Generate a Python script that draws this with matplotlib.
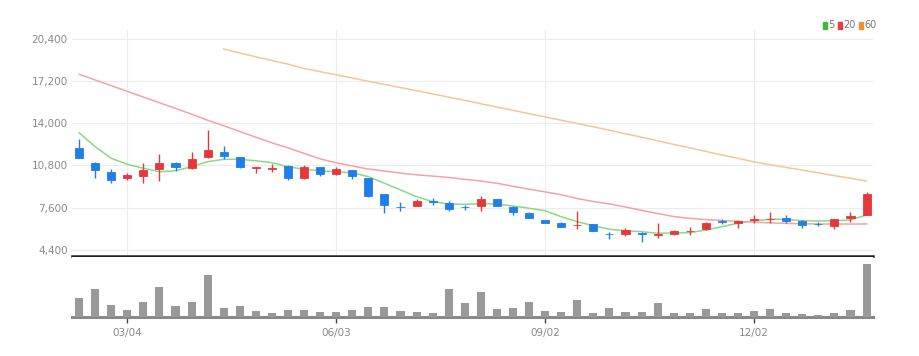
import matplotlib
matplotlib.use("Agg")
import matplotlib.pyplot as plt
from matplotlib.patches import Rectangle

plt.rcParams["font.family"] = ["Liberation Sans Narrow", "DejaVu Sans"]

# weekly candles (50 weeks)
opens = [12100, 10970, 10280, 9830, 10000, 10510, 11010, 10590, 11420, 11850,
         11420, 10620, 10560, 10780, 9830, 10660, 10150, 10460, 9830, 8610,
         7650, 7740, 8080, 7970, 7650, 7720, 8230, 7670, 7210, 6660,
         6450, 6250, 6350, 5600, 5570, 5680, 5550, 5570, 5800, 5970,
         6560, 6410, 6690, 6700, 6830, 6600, 6380, 6200, 6790, 7040]
highs = [12790, 11090, 10510, 10250, 10970, 11670, 11090, 11800, 13500, 12300,
         11450, 10660, 10890, 10800, 10840, 10680, 10660, 10480, 9850, 8640,
         8000, 8230, 8310, 8100, 7800, 8480, 8250, 7690, 7230, 6680,
         6470, 7340, 6370, 5770, 6070, 5770, 6410, 5900, 6100, 6500,
         6710, 6640, 7040, 7240, 7040, 6620, 6480, 6710, 7240, 8810]
lows = [11350, 9830, 9490, 9700, 9450, 9620, 10400, 10560, 11400, 11290,
        10590, 10210, 10330, 9700, 9800, 10020, 10100, 9770, 8430, 7210,
        7340, 7700, 7800, 7340, 7420, 7360, 7700, 7040, 6800, 6420,
        6100, 5970, 5790, 5210, 5460, 5010, 5310, 5500, 5520, 5900,
        6350, 6030, 6410, 6410, 6410, 6030, 6200, 5950, 6530, 7010]
closes = [11390, 10460, 9700, 10080, 10460, 10970, 10710, 11290, 11980, 11520,
          10660, 10660, 10600, 9830, 10710, 10150, 10510, 10000, 8500, 7800,
          7620, 8100, 8030, 7520, 7610, 8230, 7720, 7240, 6830, 6450,
          6150, 6290, 5820, 5560, 5900, 5620, 5590, 5820, 5850, 6410,
          6510, 6600, 6720, 6730, 6600, 6280, 6340, 6710, 6980, 8610]

# moving averages
ma5 = [13290, 12230, 11350, 10890, 10590, 10330, 10400, 10710, 11090, 11270,
       11270, 11160, 11010, 10710, 10510, 10400, 10330, 10250, 9950, 9450,
       8940, 8430, 8050, 7870, 7850, 7900, 7870, 7720, 7550, 7360,
       6910, 6530, 6220, 5950, 5840, 5770, 5650, 5670, 5690, 5900,
       6150, 6410, 6600, 6710, 6710, 6600, 6580, 6600, 6660, 7040]
ma20 = [17730, 17300, 16870, 16430, 16000, 15570, 15140, 14700, 14240, 13820,
        13380, 12950, 12520, 12140, 11720, 11300, 11010, 10760, 10530, 10380,
        10220, 10090, 9995, 9890, 9750, 9620, 9450, 9220, 9000, 8790,
        8580, 8290, 8060, 7880, 7650, 7390, 7150, 6920, 6780, 6690,
        6620, 6560, 6500, 6440, 6400, 6375, 6355, 6350, 6350, 6355]
ma60 = [None] * 9 + [
        19650, 19350, 19060, 18780, 18500, 18170, 17930, 17690, 17450, 17200,
        16960, 16720, 16490, 16240, 15990, 15750, 15490, 15240, 14990, 14740,
        14490, 14240, 13990, 13740, 13480, 13210, 12950, 12680, 12400, 12140,
        11870, 11600, 11340, 11070, 10860, 10650, 10450, 10240, 10030, 9830,
        9620]
volumes = [54, 83, 34, 19, 42, 89, 30, 44, 122, 25,
           30, 15, 10, 20, 20, 14, 13, 19, 27, 27,
           15, 14, 10, 83, 39, 72, 22, 25, 42, 17,
           14, 49, 10, 25, 14, 14, 39, 10, 10, 23,
           9, 10, 15, 23, 10, 6, 4, 10, 18, 155]

price_ticks = [4400, 7600, 10800, 14000, 17200, 20400]
date_ticks = [3, 16, 29, 42]
date_labels = ["03/04", "06/03", "09/02", "12/02"]

UP = "#e5383b"
DOWN = "#1f7fe6"
W, H = 919, 356

fig = plt.figure(figsize=(W / 100, H / 100), dpi=100)
ax = fig.add_axes([72 / W, (H - 256) / H, 801 / W, 226 / H])
axv = fig.add_axes([72 / W, (H - 316.5) / H, 801 / W, 59.5 / H])

n = len(opens)
xs = list(range(n))
cols = [UP if c >= o else DOWN for o, c in zip(opens, closes)]

ax.vlines(xs, lows, highs, colors=cols, linewidth=1.0, zorder=3)
bottoms = [min(o, c) for o, c in zip(opens, closes)]
heights = [max(abs(c - o), 40) for o, c in zip(opens, closes)]
ax.bar(xs, heights, bottom=bottoms, width=0.5, color=cols,
       edgecolor=cols, linewidth=0.6, zorder=4)

ax.plot(xs, ma5, color="#8ad88a", linewidth=1.1, zorder=2)
ax.plot(xs, ma20, color="#f4a3a6", linewidth=1.1, zorder=2)
ma60_x = [x for x, v in zip(xs, ma60) if v is not None]
ma60_y = [v for v in ma60 if v is not None]
ax.plot(ma60_x, ma60_y, color="#f8c496", linewidth=1.1, zorder=2)

ax.set_xlim(-0.44, 49.4)
ax.set_ylim(3921, 21097)
ax.set_yticks(price_ticks)
ax.set_yticklabels([f"{v:,}" for v in price_ticks])
ax.set_xticks(date_ticks)
ax.tick_params(axis="x", length=0, labelbottom=False)
ax.tick_params(axis="y", length=0, pad=3, labelsize=7.5, labelcolor="#8a8a8a")
ax.grid(True, color="#ececec", linewidth=0.8)
ax.set_axisbelow(True)
for s in ["top", "right", "left"]:
    ax.spines[s].set_visible(False)
ax.spines["bottom"].set_color("#222222")
ax.spines["bottom"].set_linewidth(1.8)

axv.bar(xs, volumes, width=0.5, color="#999999", zorder=3)
axv.set_xlim(-0.44, 49.4)
axv.set_ylim(0, 177)
axv.set_yticks([])
axv.set_xticks(date_ticks)
axv.set_xticklabels(date_labels)
axv.tick_params(axis="x", length=4, width=1, color="#444444", pad=4,
                labelsize=7.5, labelcolor="#8a8a8a")
for s in ["top", "right", "left"]:
    axv.spines[s].set_visible(False)
axv.spines["bottom"].set_color("#888888")
axv.spines["bottom"].set_linewidth(2.2)

# legend boxes top right
legend = [("5", "#3cb83c", 823), ("20", "#e84040", 838), ("60", "#f09030", 859)]
for label, c, px in legend:
    fig.patches.append(Rectangle((px / W, (H - 29) / H), 4 / W, 7 / H,
                                 transform=fig.transFigure, color=c))
    fig.text((px + 5.5) / W, (H - 25.5) / H, label, fontsize=7,
             color="#777777", va="center", ha="left")

fig.savefig("out.png", dpi=100)
